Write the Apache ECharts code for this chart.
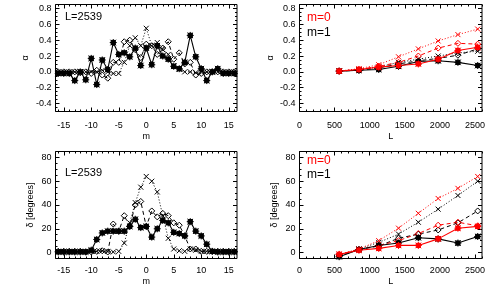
<!DOCTYPE html>
<html><head><meta charset="utf-8">
<script src="https://cdn.jsdelivr.net/npm/echarts@6/dist/echarts.min.js"></script>
<style>html,body{margin:0;padding:0;background:#fff}#c{width:491px;height:295px}</style>
</head><body><div id="c"></div>
<script>
// ---------- data ----------
const mValues = [-16,-15,-14,-13,-12,-11,-10,-9,-8,-7,-6,-5,-4,-3,-2,-1,0,1,2,3,4,5,6,7,8,9,10,11,12,13,14,15,16];
const alphaSolidM = [-0.02,-0.02,-0.02,-0.11,0.00,-0.10,0.17,-0.16,0.15,0.03,0.37,0.22,0.24,0.19,0.30,0.08,0.30,0.09,0.33,0.20,0.16,0.07,0.04,0.12,0.46,0.19,0.04,-0.11,0.00,0.04,-0.02,-0.02,-0.02];
const alphaDiamondM = [0.00,0.00,0.00,0.00,-0.01,0.00,-0.02,0.02,-0.04,-0.08,0.12,0.12,0.38,0.40,0.28,0.18,0.35,0.33,0.22,0.30,0.38,0.16,0.24,0.10,0.12,-0.04,-0.02,0.00,0.00,0.00,0.00,0.00,0.00];
const alphaCrossM = [0.00,0.00,0.00,0.00,0.00,0.00,0.00,0.00,0.02,0.00,-0.02,-0.02,0.12,0.33,0.43,0.33,0.55,0.33,0.37,0.28,0.22,0.08,0.03,0.00,0.00,-0.01,0.00,0.00,0.00,0.00,0.00,0.00,0.00];
const deltaSolidM = [0.5,0.5,0.5,0.5,0.5,0.5,2,11,16.5,18,18,18,18,22,28,21,22,13,20,27,25,17,16,14,26,18,14,7,1,0.5,0.5,0.5,0.5];
const deltaDiamondM = [1,1,1,1,1,0.5,0.5,1,1.5,0.5,24,18,31,22,40,43,22,35,30,33,31,25,23,14,3,3,1,1,1,1,1,1,1];
const deltaCrossM = [1,1,1,1,1,1,1,1,1.5,1,0.5,1,8,25,42,55,64,60,51,31,12,3,1.5,1,3,2,1,1,1,1,1,1,1];

const lValues = [565, 847, 1129, 1411, 1693, 1975, 2257, 2539];
const alphaM0Solid = [0.01,0.03,0.06,0.08,0.10,0.16,0.27,0.31];
const alphaM0Dash  = [0.01,0.03,0.07,0.12,0.20,0.30,0.36,0.35];
const alphaM0Dot   = [0.01,0.04,0.09,0.19,0.29,0.39,0.47,0.54];
const alphaM1Solid = [0.01,0.02,0.03,0.07,0.13,0.14,0.12,0.08];
const alphaM1Dash  = [0.01,0.02,0.05,0.10,0.14,0.17,0.21,0.29];
const alphaM1Dot   = [0.01,0.03,0.06,0.12,0.16,0.20,0.24,0.26];
const deltaM0Solid = [-1.5,2,3.5,6,6,11.5,20.5,22];
const deltaM0Dash  = [-1.5,2.5,6,10,16,23,25.5,22.5];
const deltaM0Dot   = [-1.5,3,10,20.5,33,45.5,54,64];
const deltaM1Solid = [-3.5,2.5,6,8,12.5,11.5,8,13.5];
const deltaM1Dash  = [-3,2.5,5.5,12,15.5,19,25,35];
const deltaM1Dot   = [-3,3,8.5,15.5,25.5,36.5,48,60];

const mTicks = [-15,-10,-5,0,5,10,15];
const lTicks = [0,500,1000,1500,2000,2500];
const alphaTicks = [-0.4,-0.2,0.0,0.2,0.4,0.6,0.8];
const deltaTicks = [0,20,40,60,80];

// ---------- styling ----------
const FONT = 'Liberation Sans';
const RED = '#ff0000', BLACK = '#000000';
const STAR = 'path://M2,2L8,2L8,8L2,8Z M5,0L5,10M0,5L10,5M1,1L9,9M9,1L1,9';
const CROSS = 'path://M0,0L10,10M10,0L0,10';

function minorList(min, max, step) {
  const out = [];
  for (let k = Math.ceil(min / step - 1e-9); k * step <= max + 1e-9; k++) out.push(Math.round(k * step * 1000) / 1000);
  return out;
}

const panels = [
  {rect:[55.5,4.5,181.5,107], x:{min:-16.5,max:16.5,major:mTicks,step:1,name:'m',fmt:v=>String(v)},
   y:{min:-0.5,max:0.85,major:alphaTicks,step:0.05,name:'α',fmt:v=>v.toFixed(1)}, xMargin:10, xGap:21, yGap:25},
  {rect:[299.5,4.5,182.5,107], x:{min:0,max:2600,major:lTicks,step:100,name:'L',fmt:v=>String(v)},
   y:{min:-0.5,max:0.85,major:alphaTicks,step:0.05,name:'α',fmt:v=>v.toFixed(1)}, xMargin:10, xGap:21, yGap:24},
  {rect:[55.5,151.5,181.5,107], x:{min:-16.5,max:16.5,major:mTicks,step:1,name:'m',fmt:v=>String(v)},
   y:{min:-5,max:85,major:deltaTicks,step:5,name:'δ [degrees]',fmt:v=>String(v)}, xMargin:8, xGap:19, yGap:20},
  {rect:[299.5,151.5,182.5,107], x:{min:0,max:2600,major:lTicks,step:100,name:'L',fmt:v=>String(v)},
   y:{min:-5,max:85,major:deltaTicks,step:5,name:'δ [degrees]',fmt:v=>String(v)}, xMargin:8, xGap:19, yGap:20}
];

const grids = [], xAxes = [], yAxes = [];
panels.forEach((p, i) => {
  const g = {left:p.rect[0], top:p.rect[1], width:p.rect[2], height:p.rect[3], containLabel:false, outerBoundsMode:'none'};
  grids[i] = Object.assign({show:true, borderColor:BLACK, borderWidth:1, backgroundColor:'transparent'}, g);
  grids[i + 4] = Object.assign({show:false}, g);
});
function tickAxis(gi, pos, spec, vals, len, labels, extra) {
  return Object.assign({
    gridIndex: gi, type: 'value', position: pos, min: spec.min, max: spec.max,
    axisLine: {show: false, onZero: false},
    axisTick: {show: true, inside: true, length: len, customValues: vals, lineStyle: {color: BLACK, width: 1}},
    axisLabel: labels ? {show: true, customValues: spec.major, formatter: spec.fmt, fontSize: 9, fontFamily: FONT, color: BLACK, margin: labels}
                      : {show: false},
    splitLine: {show: false}, minorTick: {show: false}, splitArea: {show: false}
  }, extra || {});
}
panels.forEach((p, i) => {
  const xMinor = minorList(p.x.min, p.x.max, p.x.step);
  const yMinor = minorList(p.y.min, p.y.max, p.y.step);
  xAxes.push(tickAxis(i, 'bottom', p.x, p.x.major, 4, p.xMargin,
    {name: p.x.name, nameLocation: 'middle', nameGap: p.xGap, nameTextStyle: {fontSize: 9, fontFamily: FONT, color: BLACK}}));
  xAxes.push(tickAxis(i, 'top', p.x, p.x.major, 4, 0));
  yAxes.push(tickAxis(i, 'left', p.y, p.y.major, 4, 4,
    {name: p.y.name, nameLocation: 'middle', nameGap: p.yGap, nameRotate: 90, nameTextStyle: {fontSize: 9, fontFamily: FONT, color: BLACK}}));
  yAxes.push(tickAxis(i, 'right', p.y, p.y.major, 4, 0));
  xAxes.push(tickAxis(i + 4, 'bottom', p.x, xMinor, 2, 0));
  xAxes.push(tickAxis(i + 4, 'top', p.x, xMinor, 2, 0));
  yAxes.push(tickAxis(i + 4, 'left', p.y, yMinor, 2, 0));
  yAxes.push(tickAxis(i + 4, 'right', p.y, yMinor, 2, 0));
});

function mk(panel, xs, ys, color, kind) {
  const base = {
    type: 'line', xAxisIndex: panel * 4, yAxisIndex: panel * 4,
    data: xs.map((x, k) => [x, ys[k]]),
    animation: false, emphasis: {disabled: true}, silent: true, z: kind === 'solid' ? 4 : 3
  };
  if (kind === 'solid') {
    return Object.assign(base, {symbol: STAR, symbolSize: 7,
      itemStyle: {color: color, borderColor: color, borderWidth: 1},
      lineStyle: {color: color, width: 1.1, type: 'solid'}});
  }
  if (kind === 'dash') {
    return Object.assign(base, {symbol: 'diamond', symbolSize: 6,
      itemStyle: {color: 'transparent', borderColor: color, borderWidth: 1},
      lineStyle: {color: color, width: 1, type: [4, 3]}});
  }
  return Object.assign(base, {symbol: CROSS, symbolSize: 5,
    itemStyle: {color: color, borderColor: color, borderWidth: 1},
    lineStyle: {color: color, width: 1, type: [1, 2]}});
}

const series = [
  mk(0, mValues, alphaCrossM, BLACK, 'dot'),
  mk(0, mValues, alphaDiamondM, BLACK, 'dash'),
  mk(0, mValues, alphaSolidM, BLACK, 'solid'),
  mk(1, lValues, alphaM1Dot, BLACK, 'dot'),
  mk(1, lValues, alphaM1Dash, BLACK, 'dash'),
  mk(1, lValues, alphaM1Solid, BLACK, 'solid'),
  mk(1, lValues, alphaM0Dot, RED, 'dot'),
  mk(1, lValues, alphaM0Dash, RED, 'dash'),
  mk(1, lValues, alphaM0Solid, RED, 'solid'),
  mk(2, mValues, deltaCrossM, BLACK, 'dot'),
  mk(2, mValues, deltaDiamondM, BLACK, 'dash'),
  mk(2, mValues, deltaSolidM, BLACK, 'solid'),
  mk(3, lValues, deltaM1Dot, BLACK, 'dot'),
  mk(3, lValues, deltaM1Dash, BLACK, 'dash'),
  mk(3, lValues, deltaM1Solid, BLACK, 'solid'),
  mk(3, lValues, deltaM0Dot, RED, 'dot'),
  mk(3, lValues, deltaM0Dash, RED, 'dash'),
  mk(3, lValues, deltaM0Solid, RED, 'solid')
];

function label(text, x, y, color, size) {
  return {type: 'text', left: x, top: y, silent: true, z: 10,
    style: {text: text, fill: color, fontSize: size, fontFamily: FONT}};
}
const graphic = [
  label('L=2539', 65, 11, BLACK, 11),
  label('L=2539', 65, 167, BLACK, 11),
  label('m=0', 307, 11.5, RED, 12),
  label('m=1', 307, 26.5, BLACK, 12),
  label('m=0', 307, 155, RED, 12),
  label('m=1', 307, 168.5, BLACK, 12)
];

const chart = echarts.init(document.getElementById('c'), null, {renderer: 'canvas'});
chart.setOption({
  animation: false,
  backgroundColor: '#ffffff',
  textStyle: {fontFamily: FONT},
  grid: grids, xAxis: xAxes, yAxis: yAxes, series: series, graphic: graphic
});
</script></body></html>
